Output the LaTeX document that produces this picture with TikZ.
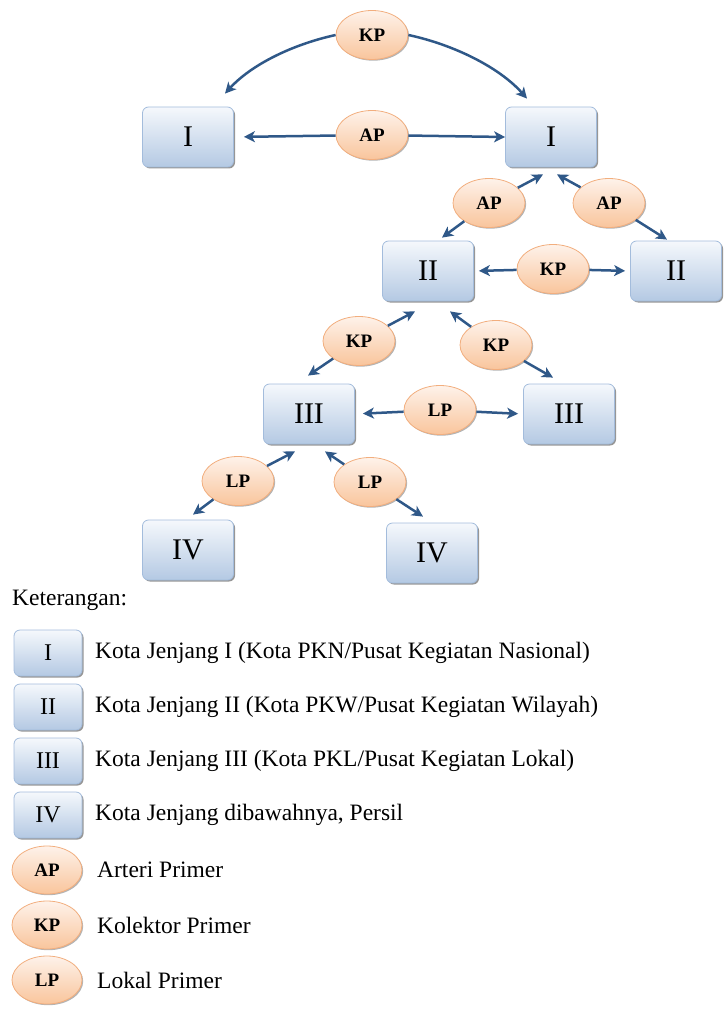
\documentclass[tikz,border=0pt]{standalone}
\usepackage{fontspec}
\setmainfont{Liberation Serif}
\usetikzlibrary{shapes.geometric,arrows.meta,shadows}
\definecolor{boxtop}{HTML}{F5F8FC}
\definecolor{boxbot}{HTML}{B4C9E3}
\definecolor{boxedge}{HTML}{A3BCDC}
\definecolor{elltop}{HTML}{FEF2EA}
\definecolor{ellbot}{HTML}{F9C59C}
\definecolor{elledge}{HTML}{F2AE7E}
\definecolor{arrowc}{HTML}{2F5888}
\begin{document}
\begin{tikzpicture}[x=1pt,y=-1pt,
  citybox/.style={draw=boxedge, line width=0.8pt, rounded corners=6pt,
    top color=boxtop, bottom color=boxbot, minimum width=91pt, minimum height=60pt,
    inner sep=0pt, font=\fontsize{30}{30}\selectfont,
    drop shadow={shadow xshift=1.5pt, shadow yshift=-1.5pt, fill=black!75, opacity=0.55}},
  legbox/.style={citybox, minimum width=68pt, minimum height=46pt, font=\fontsize{24}{24}\selectfont},
  road/.style={ellipse, draw=elledge, line width=0.8pt, top color=elltop, bottom color=ellbot,
    minimum width=72pt, minimum height=49pt, inner sep=0pt,
    font=\fontsize{19}{19}\selectfont\bfseries,
    drop shadow={shadow xshift=1.2pt, shadow yshift=-1.2pt, fill=black!65, opacity=0.45}},
  legroad/.style={road, minimum width=70pt, minimum height=48pt},
  conn/.style={draw=arrowc, line width=2.5pt, -{Stealth[length=11pt,width=11pt,inset=3pt]}},
  legtext/.style={anchor=west, inner sep=0pt, font=\fontsize{23.5}{26}\selectfont}
]
\useasboundingbox (0,0) rectangle (727,1016);

% city nodes
\node[citybox] (I1) at (188,137) {I};
\node[citybox] (I2) at (551,137) {I};
\node[citybox] (II1) at (428,271) {II};
\node[citybox] (II2) at (676,271) {II};
\node[citybox] (III1) at (309,414) {III};
\node[citybox] (III2) at (569,414) {III};
\node[citybox] (IV1) at (188,550) {IV};
\node[citybox] (IV2) at (432,553) {IV};

% road nodes
\node[road] (kp0) at (372,35) {KP};
\node[road] (ap0) at (372,135) {AP};
\node[road] (ap1) at (489,203) {AP};
\node[road] (ap2) at (609,203) {AP};
\node[road] (kp1) at (553,269) {KP};
\node[road] (kp2) at (359,341) {KP};
\node[road] (kp3) at (496,345) {KP};
\node[road] (lp1) at (440,410) {LP};
\node[road] (lp2) at (238,481) {LP};
\node[road] (lp3) at (370,482) {LP};

% connectors
\draw[conn] (kp0.west) .. controls (290,45) and (250,66) .. ([shift={(37,-13)}]I1.north);
\draw[conn] (kp0.east) .. controls (455,45) and (500,68) .. ([shift={(-24,-8)}]I2.north);
\draw[conn, shorten >=10pt] (ap0) -- (I1.east);
\draw[conn] (ap0) -- (I2.west);
\draw[conn] (ap1) -- ([shift={(-8,7)}]I2.south);
\draw[conn] (ap1) -- ([shift={(14,-3)}]II1.north);
\draw[conn] (ap2) -- ([shift={(6,7)}]I2.south);
\draw[conn] (ap2) -- ([shift={(-9,-1)}]II2.north);
\draw[conn, shorten >=5pt] (kp1) -- (II1.east);
\draw[conn, shorten >=5pt] (kp1) -- (II2.west);
\draw[conn] (kp2) -- ([shift={(-13,10)}]II1.south);
\draw[conn] (kp2) -- ([shift={(-1,-8)}]III1.north);
\draw[conn] (kp3) -- ([shift={(22,10)}]II1.south);
\draw[conn] (kp3) -- ([shift={(-16,-6)}]III2.north);
\draw[conn, shorten >=8pt] (lp1) -- (III1.east);
\draw[conn, shorten >=5pt] (lp1) -- (III2.west);
\draw[conn] (lp2) -- ([shift={(-14,7)}]III1.south);
\draw[conn] (lp2) -- ([shift={(5,-5)}]IV1.north);
\draw[conn] (lp3) -- ([shift={(16,7)}]III1.south);
\draw[conn] (lp3) -- ([shift={(-9,-6)}]IV2.north);

% legend
\node[legtext] (ket) at (12,600) {Keterangan:};
\node[legbox] (L1) at (48,653) {I};
\node[legbox] (L2) at (48,707) {II};
\node[legbox] (L3) at (48,761) {III};
\node[legbox] (L4) at (48,815) {IV};
\node[legtext] (T1) at (95,653) {Kota Jenjang I (Kota PKN/Pusat Kegiatan Nasional)};
\node[legtext] (T2) at (95,707) {Kota Jenjang II (Kota PKW/Pusat Kegiatan Wilayah)};
\node[legtext] (T3) at (95,761) {Kota Jenjang III (Kota PKL/Pusat Kegiatan Lokal)};
\node[legtext] (T4) at (95,815) {Kota Jenjang dibawahnya, Persil};
\node[legroad] (R1) at (47,870) {AP};
\node[legroad] (R2) at (47,925) {KP};
\node[legroad] (R3) at (47,980) {LP};
\node[legtext] (U1) at (97,870) {Arteri Primer};
\node[legtext] (U2) at (97,925) {Kolektor Primer};
\node[legtext] (U3) at (97,980) {Lokal Primer};
\end{tikzpicture}
\end{document}
